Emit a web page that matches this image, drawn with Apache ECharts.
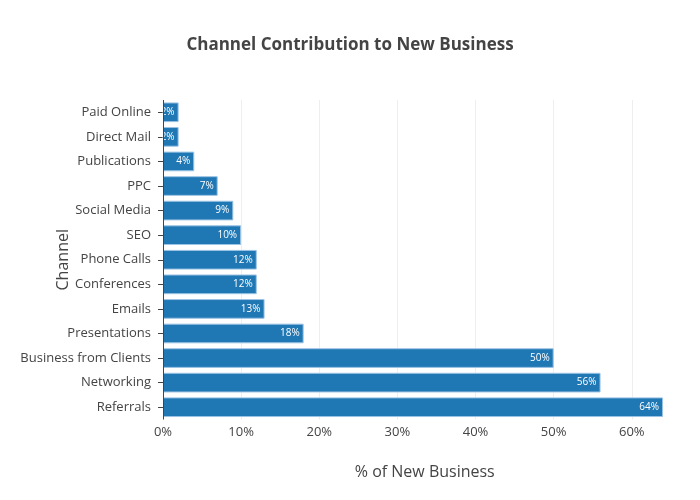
<!DOCTYPE html>
<html>
<head>
<meta charset="utf-8">
<script src="https://cdn.jsdelivr.net/npm/echarts@6/dist/echarts.min.js"></script>
<style>html,body{margin:0;padding:0;background:#fff}#c{width:700px;height:500px}</style>
</head>
<body>
<div id="c"></div>
<script>
var categories = ["Referrals","Networking","Business from Clients","Presentations","Emails","Conferences","Phone Calls","SEO","Social Media","PPC","Publications","Direct Mail","Paid Online"];
var values = [64,56,50,18,13,12,12,10,9,7,4,2,2];
var xTicks = [0,10,20,30,40,50,60];

var chart = echarts.init(document.getElementById('c'), null, {renderer:'canvas'});
var font = '"Open Sans", "DejaVu Sans", sans-serif';
chart.setOption({
  backgroundColor:'#fff',
  animation:false,
  title:{text:'Channel Contribution to New Business', left:'center', top:32,
    textStyle:{fontFamily:font, fontSize:17, fontWeight:'bold', color:'#444'}},
  grid:{left:163, right:13.5, top:100, bottom:80.5, containLabel:false, outerBoundsMode:'none'},
  xAxis:{type:'value', min:0, max:67, interval:10,
    name:'% of New Business', nameLocation:'middle', nameGap:45,
    nameTextStyle:{fontFamily:font, fontSize:16, color:'#444'},
    axisLine:{show:false}, axisTick:{show:false},
    axisLabel:{formatter:'{value}%', fontFamily:font, fontSize:13, color:'#444', margin:6, showMaxLabel:false},
    splitLine:{show:true, showMaxLine:false, lineStyle:{color:'#eee', width:1}}
  },
  yAxis:{type:'category', data:categories, offset:5,
    name:'Channel', nameLocation:'middle', nameGap:87, nameRotate:90, nameMoveOverlap:false,
    nameTextStyle:{fontFamily:font, fontSize:16, color:'#444'},
    axisLine:{show:false},
    axisTick:{show:true, alignWithLabel:true, length:5, lineStyle:{color:'#444'}},
    axisLabel:{fontFamily:font, fontSize:13, color:'#444', margin:7},
    splitLine:{show:false}
  },
  series:[{type:'bar', data:values, barCategoryGap:'20%',
    itemStyle:{color:'#1f77b4', borderColor:'#9cc3e4', borderWidth:1},
    label:{show:true, position:'insideRight', distance:4, formatter:'{c}%',
      fontFamily:font, fontSize:10, color:'#fff'},
    markLine:{silent:true, symbol:'none', label:{show:false},
      lineStyle:{color:'#444', width:1, type:'solid'},
      data:[{xAxis:0}]}
  }]
});
</script>
</body>
</html>
